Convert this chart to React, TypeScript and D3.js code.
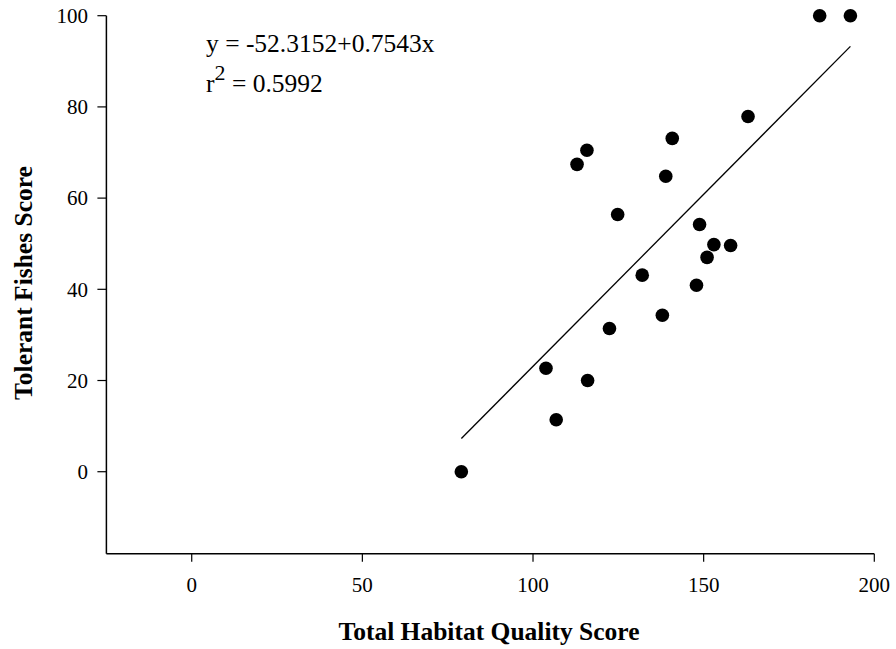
import React from "react";
import * as d3 from "d3";

const habitatScores = [79, 103.8, 116, 106.8, 115.8, 112.9, 140.8, 138.9, 124.8, 132, 137.9, 122.4, 148.8, 153, 157.9, 151, 147.9, 184, 193, 163];
const tolerantScores = [0, 22.7, 20, 11.4, 70.5, 67.4, 73.1, 64.8, 56.4, 43.1, 34.3, 31.4, 54.2, 49.8, 49.6, 47.0, 40.9, 100, 100, 77.9];
const xTicks = [0, 50, 100, 150, 200];
const yTicks = [0, 20, 40, 60, 80, 100];
const intercept = -52.3152;
const slope = 0.7543;
const fitRange = [79, 193];
const equationText = "y = -52.3152+0.7543x";
const r2Text = "= 0.5992";
const xTitle = "Total Habitat Quality Score";
const yTitle = "Tolerant Fishes Score";

const W = 896;
const H = 649;
const FONT = "'Liberation Serif', 'Times New Roman', serif";

export default function App() {
  const x = d3.scaleLinear().domain([-25, 200]).range([106.4, 874.3]);
  const y = d3.scaleLinear().domain([-18, 100]).range([553.8, 15.7]);
  const line = d3.line<number>().x((d) => x(d)).y((d) => y(intercept + slope * d));
  const pts = habitatScores.map((h, i) => ({ h, t: tolerantScores[i] }));
  const x0 = x.range()[0];
  const yB = y.range()[0];
  return (
    <svg width={W} height={H} style={{ position: "absolute", left: 0, top: 0, background: "#fff" }} fontFamily={FONT}>
      <rect width={W} height={H} fill="#fff" />
      <line x1={x0} x2={x0} y1={y(100)} y2={yB} stroke="#000" strokeWidth={1.5} />
      <line x1={x0} x2={x(200)} y1={yB} y2={yB} stroke="#000" strokeWidth={1.5} />
      {yTicks.map((t) => (
        <g key={"y" + t}>
          <line x1={x0 - 9} x2={x0} y1={y(t)} y2={y(t)} stroke="#000" strokeWidth={1.2} />
          <text x={88} y={y(t)} dy="0.35em" textAnchor="end" fontSize={21}>{t}</text>
        </g>
      ))}
      {xTicks.map((t) => (
        <g key={"x" + t}>
          <line x1={x(t)} x2={x(t)} y1={yB} y2={yB + 8} stroke="#000" strokeWidth={1.2} />
          <text x={x(t)} y={591.5} textAnchor="middle" fontSize={21}>{t}</text>
        </g>
      ))}
      <path d={line(fitRange) || ""} fill="none" stroke="#000" strokeWidth={1.3} />
      {pts.map((p, i) => (
        <circle key={i} cx={x(p.h)} cy={y(p.t)} r={6.8} fill="#000" />
      ))}
      <text x={206} y={51.7} fontSize={25.5}>{equationText}</text>
      <text x={206} y={91.7} fontSize={25.5}>
        r<tspan dy={-12} fontSize={22}>2</tspan><tspan dy={12} fontSize={25.5}> {r2Text}</tspan>
      </text>
      <text x={489} y={640} textAnchor="middle" fontSize={25.5} fontWeight="bold">{xTitle}</text>
      <text transform={`translate(32, 283) rotate(-90)`} textAnchor="middle" fontSize={25.5} fontWeight="bold">{yTitle}</text>
    </svg>
  );
}
